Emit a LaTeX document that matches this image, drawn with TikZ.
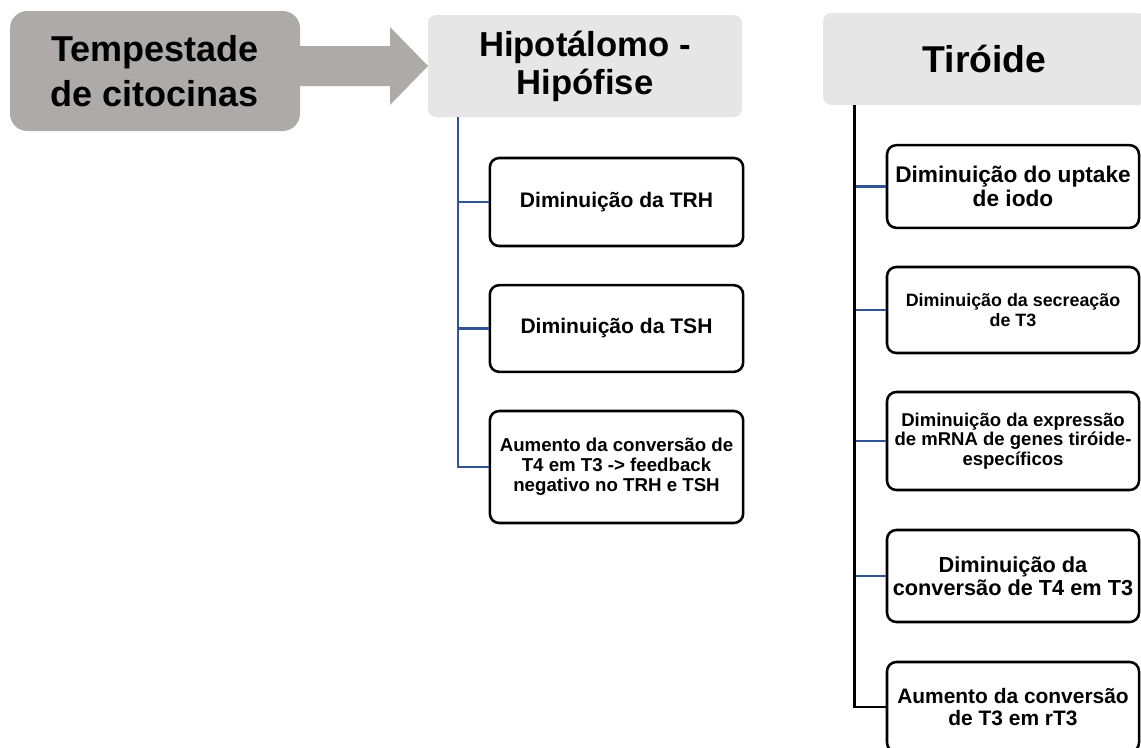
\documentclass[tikz,border=0pt]{standalone}
\usepackage{fontspec}
\setmainfont{Liberation Sans}
\definecolor{stormgray}{RGB}{174,170,170}
\definecolor{headgray}{RGB}{231,230,230}
\definecolor{linkblue}{RGB}{47,85,151}
\newcommand{\fsz}[2]{\fontsize{#1}{#2}\selectfont}
\tikzset{
  head/.style={fill=headgray, rounded corners=6pt, align=center, inner sep=0pt},
  leaf/.style={draw=black, line width=1.9pt, fill=white, rounded corners=7pt,
    align=center, inner sep=0pt},
  hleaf/.style={leaf, minimum width=190pt},
  tleaf/.style={leaf, minimum width=189pt},
  bluelink/.style={draw=linkblue, line width=1.8pt},
}
\begin{document}
\begin{tikzpicture}[x=0.75pt, y=-0.75pt]
  \clip (0,0) rectangle (1141,747);
  % cause
  \node[fill=stormgray, rounded corners=13pt, minimum width=217.5pt, minimum height=90pt,
    align=center, font=\bfseries\fsz{27}{34}] (storm) at (155,71) {Tempestade\\de citocinas};
  \fill[stormgray] (296,46) -- (390,46) -- (390,27) -- (428,66) -- (390,105) -- (390,86) -- (296,86) -- cycle;
  % headers
  \node[head, minimum width=235.5pt, minimum height=76.5pt, font=\bfseries\fsz{26}{28.5}]
    (hipo) at (585,66) {Hipotálomo -\\Hipófise};
  \node[head, minimum width=242pt, minimum height=69pt, font=\bfseries\fsz{28}{30}]
    (tir) at (984.5,59) {Tiróide};
  % hipotalamo - hipofise
  \node[hleaf, minimum height=66pt, font=\bfseries\fsz{15.8}{17}] (trh) at (616.5,202) {Diminuição da TRH};
  \node[hleaf, minimum height=65pt, font=\bfseries\fsz{15.8}{17}] (tsh) at (616.5,328.5) {Diminuição da TSH};
  \node[hleaf, minimum height=84pt, font=\bfseries\fsz{14}{15}] (fb) at (616.5,467)
    {Aumento da conversão de\\T4 em T3 -> feedback\\negativo no TRH e TSH};
  % tiroide
  \node[tleaf, minimum height=62pt, font=\bfseries\fsz{17}{17.5}] (iodo) at (1013,186.5) {Diminuição do uptake\\de iodo};
  \node[tleaf, minimum height=64.5pt, font=\bfseries\fsz{13.4}{15}] (sec) at (1013,310) {Diminuição da secreação\\de T3};
  \node[tleaf, minimum height=73.5pt, font=\bfseries\fsz{13.9}{14.5}] (mrna) at (1013,441)
    {Diminuição da expressão\\de mRNA de genes tiróide-\\específicos};
  \node[tleaf, minimum height=69pt, font=\bfseries\fsz{16.3}{17}] (conv) at (1013,576) {Diminuição da\\conversão de T4 em T3};
  \node[tleaf, minimum height=67.5pt, font=\bfseries\fsz{15.7}{16}] (rt3) at (1013,707) {Aumento da conversão\\de T3 em rT3};
  % connectors
  \draw[bluelink] (hipo.south west) ++(30,0) coordinate (hs) |- (fb.west);
  \draw[bluelink] (trh.west) -- (trh.west -| hs);
  \draw[bluelink] (tsh.west) -- (tsh.west -| hs);
  \path (tir.south west) ++(32,0) coordinate (ts);
  \foreach \n in {iodo, sec, mrna, conv}
    \draw[bluelink] (\n.west) -- (\n.west -| ts);
  \draw[line width=2.2pt] (ts) |- (rt3.west);
\end{tikzpicture}
\end{document}
